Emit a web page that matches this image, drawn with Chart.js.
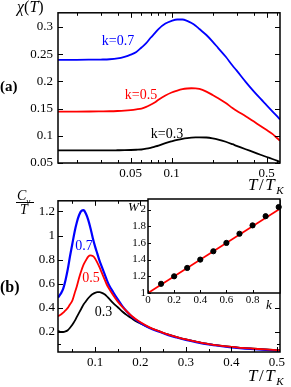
<!DOCTYPE html>
<html><head><meta charset="utf-8">
<script src="https://cdn.jsdelivr.net/npm/chart.js@4/dist/chart.umd.min.js"></script>
<style>
html,body{margin:0;padding:0;background:#fff;}
#wrap{position:relative;width:291px;height:387px;overflow:hidden;font-family:"Liberation Serif",serif;color:#000;}
canvas{position:absolute;}
.t{position:absolute;white-space:nowrap;line-height:1;}
</style></head><body>
<div id="wrap">
<canvas id="cA" width="291" height="195" style="left:0px;top:0px"></canvas>
<canvas id="cB" width="291" height="197" style="left:0px;top:190px"></canvas>
<canvas id="cC" width="170" height="120" style="left:118px;top:190px"></canvas>
<div class="t" style="left:17px;top:-1px;font-size:16px;"><i>χ</i>(<i>T</i>)</div>
<div class="t" style="left:0px;top:79px;font-size:15px;font-weight:bold;">(a)</div>
<div class="t" style="left:0px;top:279px;font-size:16px;font-weight:bold;">(b)</div>
<div class="t" style="left:248px;top:176px;font-size:17px;letter-spacing:1.5px;"><i>T</i>/<i>T</i><sub style="font-size:11px;"><i>K</i></sub></div>
<div class="t" style="left:248px;top:367px;font-size:17px;letter-spacing:1.5px;"><i>T</i>/<i>T</i><sub style="font-size:11px;"><i>K</i></sub></div>
<div class="t" style="left:17px;top:189px;font-size:14px;"><i>C</i><sub style="font-size:9px;"><i>v</i></sub></div>
<div style="position:absolute;left:16px;top:202px;width:18px;height:1px;background:#000;"></div>
<div class="t" style="left:20px;top:203px;font-size:14px;"><i>T</i></div>
<div class="t" style="left:128px;top:200px;font-size:13px;"><i>W</i></div>
<div class="t" style="left:266px;top:298px;font-size:13px;"><i>k</i></div>
</div>
<script>
// ---------- DATA ----------
// Panel (a): chi(T) vs T/T_K (log axis)
const topT     = [0.0146,0.02,0.025,0.03,0.035,0.04,0.045,0.05,0.055,0.06,0.065,0.07,0.075,0.08,0.09,0.1,0.11,0.12,0.13,0.14,0.15,0.16,0.18,0.2,0.22,0.25,0.28,0.3,0.35,0.4,0.45,0.5,0.55,0.6,0.626];
const topBlue  = [0.2395,0.2395,0.2397,0.240,0.2405,0.242,0.245,0.249,0.254,0.262,0.270,0.280,0.288,0.296,0.306,0.311,0.3135,0.3135,0.311,0.307,0.302,0.296,0.285,0.273,0.261,0.245,0.229,0.220,0.199,0.182,0.168,0.156,0.145,0.135,0.130];
const topRed   = [0.1445,0.1445,0.1446,0.1448,0.145,0.1455,0.1462,0.1472,0.1485,0.150,0.153,0.157,0.161,0.166,0.174,0.1795,0.183,0.1855,0.1868,0.1873,0.1872,0.186,0.181,0.175,0.169,0.160,0.151,0.146,0.136,0.1265,0.118,0.1105,0.1035,0.095,0.091];
const topBlack = [0.073,0.073,0.073,0.0731,0.0732,0.0734,0.0736,0.0739,0.0743,0.0748,0.0762,0.078,0.080,0.082,0.0865,0.0898,0.0925,0.0945,0.0958,0.0966,0.097,0.0972,0.0968,0.0952,0.093,0.089,0.0845,0.0815,0.0752,0.070,0.0652,0.061,0.0573,0.0538,0.052];
const topXTicks = [0.05, 0.1, 0.5];
const topXMinor = [0.02,0.03,0.04,0.06,0.07,0.08,0.09,0.2,0.3,0.4,0.6];
const topYTicks = [0.05, 0.1, 0.15, 0.2, 0.25, 0.3];
const topLabels = [
  {text:'k=0.7', x:0.0403, y:0.2728, color:'#0000ff'},
  {text:'k=0.5', x:0.0595, y:0.175,  color:'#ff0000'},
  {text:'k=0.3', x:0.0924, y:0.1034, color:'#000000'}
];

// Panel (b): C_v/T vs T/T_K
const botT     = [0.0185,0.025,0.03,0.035,0.04,0.045,0.05,0.055,0.06,0.065,0.07,0.075,0.08,0.085,0.09,0.095,0.1,0.105,0.11,0.115,0.12,0.125,0.13,0.14,0.15,0.16,0.17,0.18,0.19,0.2,0.22,0.24,0.26,0.28,0.3,0.325,0.35,0.375,0.4,0.425,0.45,0.475,0.5,0.507];
const botBlue  = [0.485,0.52,0.56,0.63,0.72,0.83,0.93,1.03,1.11,1.17,1.205,1.21,1.18,1.13,1.06,0.98,0.91,0.85,0.79,0.74,0.69,0.64,0.595,0.53,0.47,0.415,0.37,0.33,0.30,0.275,0.234,0.204,0.176,0.154,0.134,0.114,0.097,0.084,0.073,0.064,0.057,0.051,0.046,0.045];
const botRed   = [0.33,0.345,0.36,0.38,0.40,0.43,0.46,0.52,0.58,0.65,0.71,0.76,0.795,0.825,0.835,0.83,0.81,0.775,0.735,0.69,0.645,0.60,0.565,0.505,0.452,0.408,0.37,0.335,0.305,0.28,0.238,0.208,0.18,0.158,0.138,0.118,0.10,0.087,0.077,0.068,0.061,0.055,0.05,0.049];
const botBlack = [0.21,0.20,0.20,0.205,0.215,0.235,0.26,0.29,0.325,0.36,0.395,0.43,0.455,0.48,0.50,0.515,0.525,0.53,0.53,0.525,0.515,0.50,0.48,0.44,0.405,0.37,0.34,0.315,0.29,0.27,0.235,0.207,0.18,0.158,0.138,0.118,0.10,0.087,0.077,0.068,0.061,0.055,0.05,0.049];
const botXTicks = [0.1, 0.2, 0.3, 0.4, 0.5];
const botXMinor = [0.05, 0.15, 0.25, 0.35, 0.45];
const botYTicks = [0.2, 0.4, 0.6, 0.8, 1, 1.2];
const botYMinor = [0.1];
const botLabels = [
  {text:'0.7', x:0.0758, y:0.911, color:'#0000ff'},
  {text:'0.5', x:0.0912, y:0.648, color:'#ff0000'},
  {text:'0.3', x:0.1187, y:0.361, color:'#000000'}
];

// Inset: W vs k
const insetK = [0.1,0.2,0.3,0.4,0.5,0.6,0.7,0.8,0.9,1.0];
const insetW = [1.11,1.20,1.30,1.40,1.50,1.60,1.71,1.81,1.92,2.03];
const fitK = [0, 1.01];
const fitW = [1, 2.01];
const insetXTicks = [0, 0.2, 0.4, 0.6, 0.8];
const insetYTicks = [1, 1.2, 1.4, 1.6, 1.8, 2];

// ---------- HELPERS ----------
const pts = (xs, ys) => xs.map((x, i) => ({x, y: ys[i]}));
Chart.defaults.font.family = '"Liberation Serif", serif';
Chart.defaults.font.size = 13;
Chart.defaults.color = '#000';

const framePlugin = {
  id: 'frame',
  beforeDatasetsDraw(chart, args, o) {
    if (o.fill) {
      const a = chart.chartArea, ctx = chart.ctx;
      ctx.save(); ctx.fillStyle = o.fill;
      ctx.fillRect(a.left, a.top, a.right - a.left, a.bottom - a.top);
      ctx.restore();
    }
  },
  afterDatasetsDraw(chart, args, o) {
    const {ctx, chartArea: a} = chart;
    const xs = chart.scales.x, ys = chart.scales.y;
    ctx.save();
    ctx.strokeStyle = '#000';
    ctx.lineWidth = 1;
    const tick = (vals, len, axis) => {
      (vals || []).forEach(v => {
        if (axis === 'x') {
          const px = Math.round(xs.getPixelForValue(v)) + 0.5;
          ctx.beginPath();
          ctx.moveTo(px, a.bottom); ctx.lineTo(px, a.bottom - len);
          if (o.mirror) { ctx.moveTo(px, a.top); ctx.lineTo(px, a.top + len); }
          ctx.stroke();
        } else {
          const py = Math.round(ys.getPixelForValue(v)) + 0.5;
          ctx.beginPath();
          ctx.moveTo(a.left, py); ctx.lineTo(a.left + len, py);
          if (o.mirror) { ctx.moveTo(a.right, py); ctx.lineTo(a.right - len, py); }
          ctx.stroke();
        }
      });
    };
    tick(o.xMajor, o.major, 'x'); tick(o.xMinor, o.minor, 'x');
    tick(o.yMajor, o.major, 'y'); tick(o.yMinor, o.minor, 'y');
    ctx.lineWidth = o.lw;
    ctx.strokeRect(a.left, a.top, a.right - a.left, a.bottom - a.top);
    (o.labels || []).forEach(l => {
      ctx.font = (o.labelSize || 14) + 'px "Liberation Serif", serif';
      ctx.fillStyle = l.color; ctx.textAlign = 'center'; ctx.textBaseline = 'middle';
      ctx.fillText(l.text, xs.getPixelForValue(l.x), ys.getPixelForValue(l.y));
    });
    ctx.restore();
  }
};

function axis(type, min, max, ticks, size, pad, isY, fontSize) {
  return {
    type, min, max,
    grid: {display: false, drawTicks: false},
    border: {display: false},
    afterBuildTicks: s => { s.ticks = ticks.map(v => ({value: v})); },
    afterFit: s => { if (isY) s.width = size; else s.height = size; },
    ticks: {padding: pad, autoSkip: false, maxRotation: 0, minRotation: 0,
            font: {size: fontSize || 13}, callback: v => String(v)}
  };
}

function lineDs(xs, ys, color, w) {
  return {data: pts(xs, ys), borderColor: color, borderWidth: w, showLine: true,
          pointRadius: 0, fill: false, cubicInterpolationMode: 'monotone'};
}

// ---------- PANEL A ----------
new Chart(document.getElementById('cA'), {
  type: 'scatter',
  data: {datasets: [
    lineDs(topT, topBlue, '#0000ff', 1.8),
    lineDs(topT, topRed, '#ff0000', 1.8),
    lineDs(topT, topBlack, '#000000', 1.8)
  ]},
  options: {
    responsive: false, animation: false, devicePixelRatio: 1,
    layout: {padding: {left: 0, top: 8, right: 11, bottom: 0}},
    plugins: {legend: {display: false}, tooltip: {enabled: false},
      frame: {lw: 1.5, major: 5, minor: 3, mirror: true,
              xMajor: topXTicks, xMinor: topXMinor, yMajor: topYTicks, labels: topLabels}},
    scales: {
      x: axis('logarithmic', 0.0146, 0.626, topXTicks, 32, 3, false),
      y: axis('linear', 0.05, 0.3258, topYTicks, 58, 5, true)
    }
  },
  plugins: [framePlugin]
});

// ---------- PANEL B ----------
new Chart(document.getElementById('cB'), {
  type: 'scatter',
  data: {datasets: [
    lineDs(botT, botRed, '#ff0000', 1.8),
    lineDs(botT, botBlue, '#0000ff', 2.2),
    lineDs(botT, botBlack, '#000000', 1.8)
  ]},
  options: {
    responsive: false, animation: false, devicePixelRatio: 1,
    layout: {padding: {left: 0, top: 9, right: 11, bottom: 0}},
    plugins: {legend: {display: false}, tooltip: {enabled: false},
      frame: {lw: 1.5, major: 5, minor: 3, mirror: true,
              xMajor: botXTicks, xMinor: botXMinor, yMajor: botYTicks, yMinor: botYMinor, labels: botLabels}},
    scales: {
      x: axis('linear', 0.0185, 0.507, botXTicks, 35, 3, false),
      y: axis('linear', 0.034, 1.288, botYTicks, 58, 3, true)
    }
  },
  plugins: [framePlugin]
});

// ---------- INSET ----------
new Chart(document.getElementById('cC'), {
  type: 'scatter',
  data: {datasets: [
    {data: pts(insetK, insetW), showLine: false, pointRadius: 2.6, pointBackgroundColor: '#000',
     pointBorderColor: '#000', clip: false},
    {data: pts(fitK, fitW), showLine: true, borderColor: '#ff0000', borderWidth: 1.8, pointRadius: 0}
  ]},
  options: {
    responsive: false, animation: false, devicePixelRatio: 1,
    layout: {padding: {left: 0, top: 9, right: 8, bottom: 0}},
    plugins: {legend: {display: false}, tooltip: {enabled: false},
      frame: {lw: 1.5, major: 3, minor: 2, mirror: false, fill: '#ffffff',
              xMajor: insetXTicks, yMajor: insetYTicks}},
    scales: {
      x: axis('linear', 0, 1.01, insetXTicks, 17, 1, false, 11),
      y: axis('linear', 1, 2.126, insetYTicks, 30, 2, true, 11)
    }
  },
  plugins: [framePlugin]
});
</script>
</body></html>
